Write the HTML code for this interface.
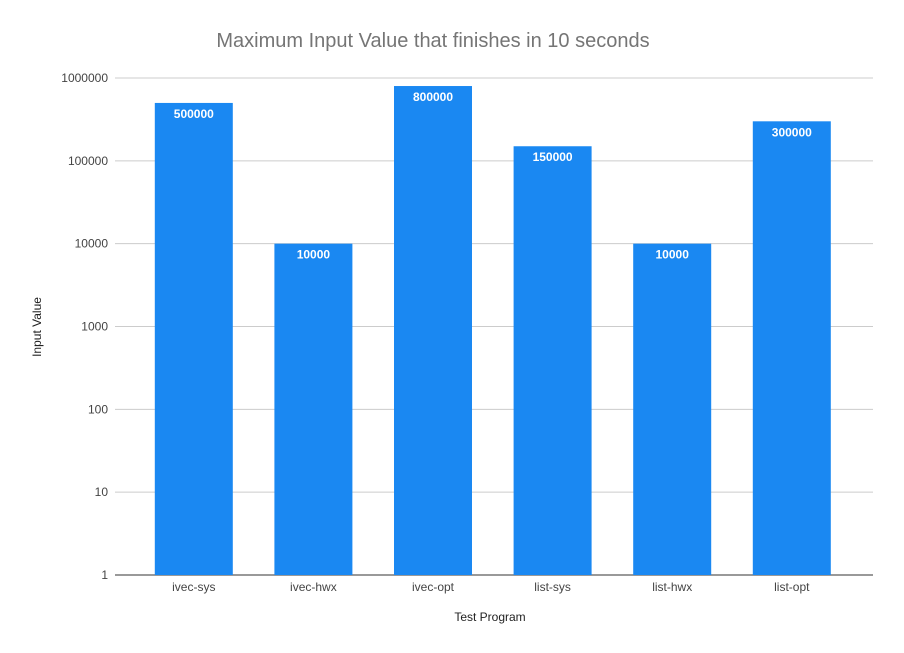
<!DOCTYPE html>
<html><head><meta charset="utf-8"><style>
body{margin:0;background:#fff;}
svg{display:block;font-family:"Liberation Sans",Arial,sans-serif;}
</style></head><body>
<svg id="chart" width="904" height="653">
<rect width="904" height="653" fill="#fff"/>
<text x="433" y="47" text-anchor="middle" font-size="20" fill="#757575">Maximum Input Value that finishes in 10 seconds</text>
<text x="490" y="621" text-anchor="middle" font-size="12" fill="#222">Test Program</text>
<text transform="translate(41,327) rotate(-90)" text-anchor="middle" font-size="12" fill="#222">Input Value</text>
<g id="grid"></g><g id="bars"></g>
</svg>
<script>
const categories=["ivec-sys","ivec-hwx","ivec-opt","list-sys","list-hwx","list-opt"];
const values=[500000,10000,800000,150000,10000,300000];
const tickValues=[1,10,100,1000,10000,100000,1000000];
const tickLabels=["1","10","100","1000","10000","100000","1000000"];
const NS="http://www.w3.org/2000/svg";
const yTop=78,yBot=575,minLog=0,maxLog=6;
function y(v){return yBot-(Math.log10(v)-minLog)/(maxLog-minLog)*(yBot-yTop);}
const x0=134,band=119.6,bw=78;
function xc(i){return x0+band*(i+0.5);}
const grid=document.getElementById('grid'),bars=document.getElementById('bars');
function mk(t,a,p){const e=document.createElementNS(NS,t);for(const k in a)e.setAttribute(k,a[k]);p.appendChild(e);return e;}
tickValues.forEach((v,i)=>{
 const l=mk('line',{x1:115,x2:873,y1:y(v),y2:y(v),stroke:i==0?'#333':'#ccc','stroke-width':1},grid);
 
 
 const t=mk('text',{x:108,y:y(v)+4,'text-anchor':'end','font-size':12,fill:'#444'},grid);
 t.textContent=tickLabels[i];
 
 
});
categories.forEach((c,i)=>{
 const r=mk('rect',{x:xc(i)-bw/2,y:y(values[i]),width:bw,height:yBot-y(values[i]),fill:'#1a88f2'},bars);
 
 
 const t=mk('text',{x:xc(i),y:y(values[i])+15,'text-anchor':'middle','font-size':12,'font-weight':'bold',fill:'#fff'},bars);
 t.textContent=values[i];
 
 
 const xl=mk('text',{x:xc(i),y:591,'text-anchor':'middle','font-size':12,fill:'#444'},bars);
 xl.textContent=c;
 
 
});
</script>
</body></html>
